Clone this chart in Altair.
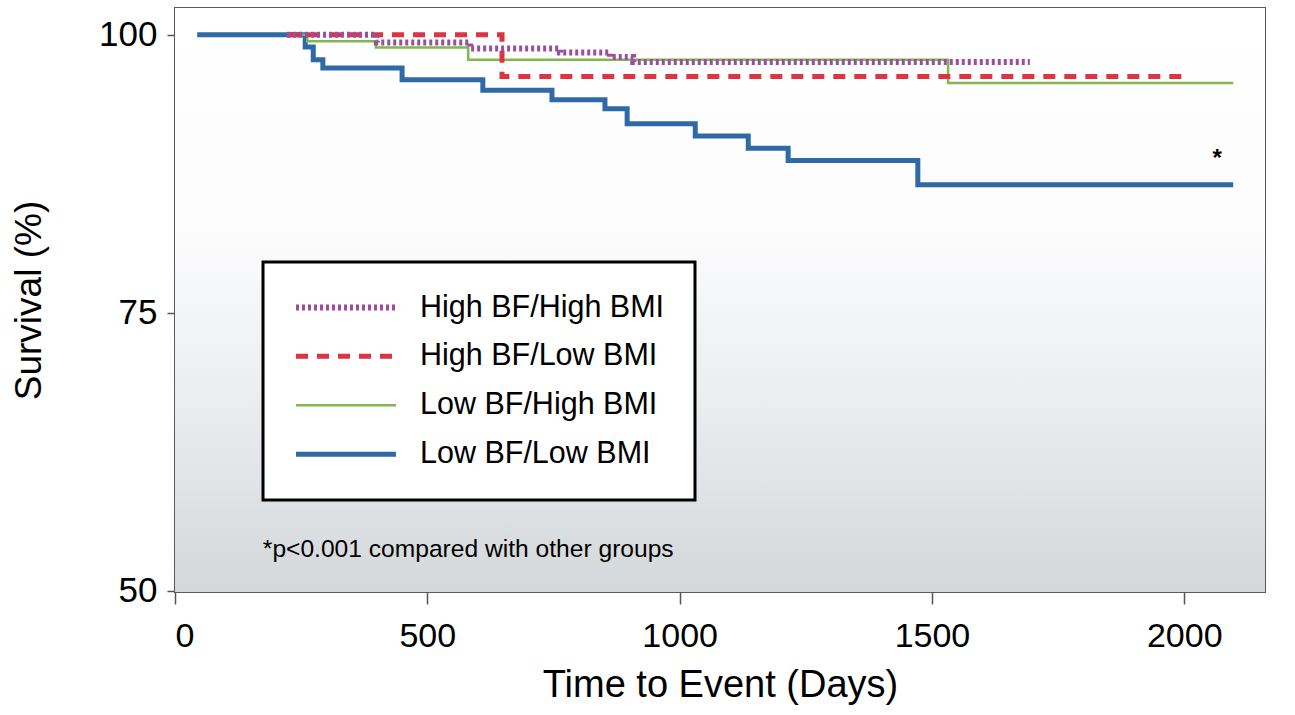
import altair as alt
import pandas as pd

# ---- data ----
groups = ["High BF/High BMI", "High BF/Low BMI", "Low BF/High BMI", "Low BF/Low BMI"]
colors = ["#9a4f9e", "#de3340", "#82b64f", "#2f6aa6"]
dashes = [[3, 3], [12, 9], [1, 0], [1, 0]]
widths = [6, 5, 2.5, 5]

hh_days = [222, 400, 585, 763, 862, 908, 1694]
hh_surv = [100, 99.3, 98.75, 98.4, 98.0, 97.55, 97.55]

hl_days = [222, 648, 2011]
hl_surv = [100, 96.25, 96.25]

lh_days = [222, 262, 398, 581, 1532, 2097]
lh_surv = [100, 99.4, 98.85, 97.75, 95.65, 95.65]

ll_days = [44, 258, 274, 293, 450, 610, 747, 852, 896, 1031, 1136, 1215, 1472, 2097]
ll_surv = [100, 98.9, 97.75, 97.0, 95.95, 95.0, 94.15, 93.35, 92.0, 90.9, 89.8, 88.7, 86.5, 86.5]

x_ticks = [0, 500, 1000, 1500, 2000]
y_ticks = [50, 75, 100]

star_day, star_surv = [2065], [88.8]
note_day, note_surv = [174], [53.7]
note_text = ["*p<0.001 compared with other groups"]

W, H = 1090, 584
FONT = "Liberation Sans"

rows = []
for g, ds, ss in zip(groups, [hh_days, hl_days, lh_days, ll_days],
                     [hh_surv, hl_surv, lh_surv, ll_surv]):
    for d, s in zip(ds, ss):
        rows.append({"group": g, "days": d, "surv": s})
df = pd.DataFrame(rows)

xscale = alt.Scale(domain=[0, 2160], nice=False, zero=False)
yscale = alt.Scale(domain=[49.9, 102.4], nice=False, zero=False)

xenc = alt.X("days:Q", scale=xscale,
             axis=alt.Axis(values=x_ticks, format="d", title="Time to Event (Days)", grid=False,
                           domain=False, tickSize=12, tickColor="#555", tickWidth=1.5,
                           labelFontSize=34, labelPadding=15, labelColor="black",
                           titleFontSize=38, titleFontWeight="normal", titlePadding=13,
                           titleColor="black", labelFont=FONT, titleFont=FONT))
yenc = alt.Y("surv:Q", scale=yscale,
             axis=alt.Axis(values=y_ticks, format="d", title="Survival (%)", grid=False,
                           domain=False, tickSize=8, tickColor="#555", tickWidth=1.5,
                           labelFontSize=35, labelPadding=10, labelColor="black",
                           titleFontSize=37, titleFontWeight="normal", titlePadding=50,
                           titleColor="black", labelFont=FONT, titleFont=FONT))

bg = alt.Chart(pd.DataFrame({"a": [0]})).mark_rect(
    color=alt.Gradient(gradient="linear",
                       stops=[alt.GradientStop(offset=0, color="#ffffff"),
                              alt.GradientStop(offset=0.38, color="#fcfcfd"),
                              alt.GradientStop(offset=0.65, color="#eceef0"),
                              alt.GradientStop(offset=1, color="#d4d7da")],
                       x1=0, x2=0, y1=0, y2=1)
).encode(x=alt.value(0), x2=alt.value(W), y=alt.value(0), y2=alt.value(H))

color_enc = alt.Color("group:N", scale=alt.Scale(domain=groups, range=colors),
                      legend=alt.Legend(title=None))
dash_enc = alt.StrokeDash("group:N", scale=alt.Scale(domain=groups, range=dashes),
                          legend=alt.Legend(title=None))
width_enc = alt.StrokeWidth("group:N", scale=alt.Scale(type="ordinal", domain=groups, range=widths),
                            legend=alt.Legend(title=None))

draw_order = ["Low BF/Low BMI", "Low BF/High BMI", "High BF/Low BMI", "High BF/High BMI"]
lines = []
for g in draw_order:
    lines.append(
        alt.Chart(df).transform_filter(alt.datum.group == g)
        .mark_line(interpolate="step-after", strokeCap="butt")
        .encode(x=xenc, y=yenc, color=color_enc, strokeDash=dash_enc, strokeWidth=width_enc)
    )

star = alt.Chart(pd.DataFrame({"days": star_day, "surv": star_surv, "t": ["*"]})).mark_text(
    fontSize=24, font=FONT, color="black", baseline="middle", align="center", fontWeight="bold"
).encode(x=alt.X("days:Q", scale=xscale), y=alt.Y("surv:Q", scale=yscale), text="t:N")

note = alt.Chart(pd.DataFrame({"days": note_day, "surv": note_surv, "t": note_text})).mark_text(
    fontSize=24.6, font=FONT, color="black", baseline="middle", align="left"
).encode(x=alt.X("days:Q", scale=xscale), y=alt.Y("surv:Q", scale=yscale), text="t:N")

chart = alt.layer(bg, *lines, star, note).properties(
    width=W, height=H,
    autosize=alt.AutoSizeParams(type="none"),
    padding={"left": 175, "top": 8, "right": 30, "bottom": 123},
).configure_view(
    stroke="#5a5a5a", strokeWidth=2
).configure_legend(
    orient="none", legendX=88, legendY=254,
    strokeColor="black", strokeWidth=3, fillColor="white",
    padding=30, symbolType="M-1,0H7", symbolSize=625,
    labelFontSize=30.5, labelFont=FONT, labelColor="black", labelOffset=96,
    rowPadding=18, labelLimit=0
)

chart.save("out.html", embed_options={"renderer": "svg", "actions": False})
